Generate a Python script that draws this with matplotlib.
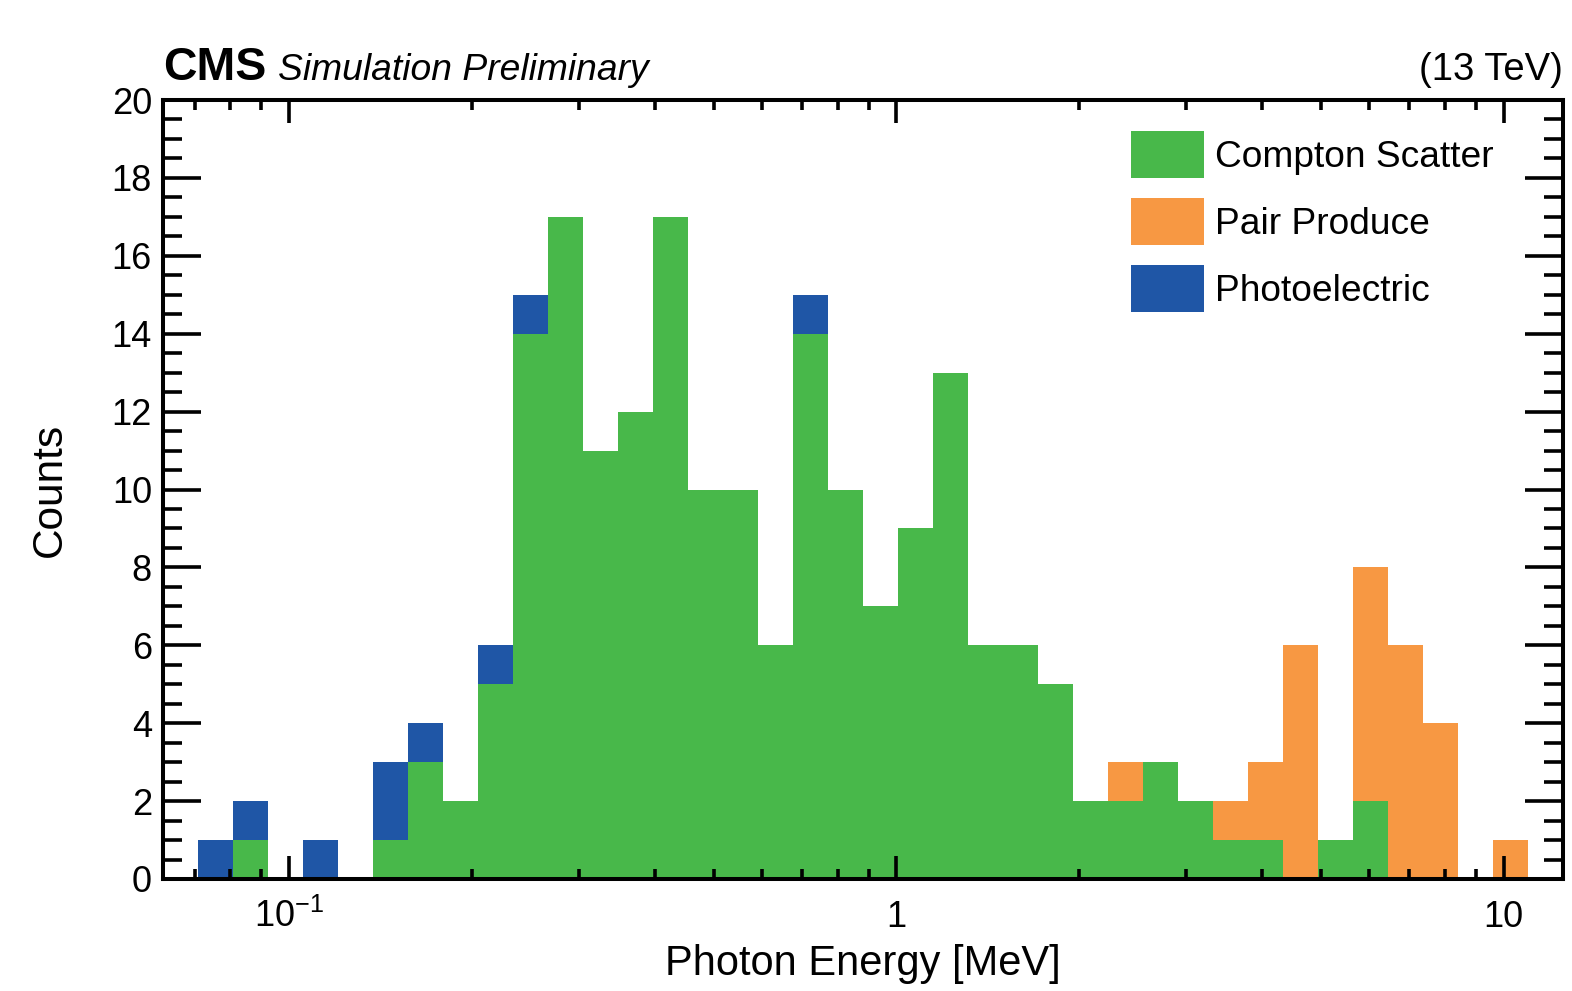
import numpy as np
import matplotlib
matplotlib.use("Agg")
import matplotlib.pyplot as plt
from matplotlib.ticker import MultipleLocator, NullFormatter, LogLocator
from matplotlib.transforms import blended_transform_factory

plt.rcParams['font.family'] = ['Liberation Sans', 'DejaVu Sans']
plt.rcParams['mathtext.fontset'] = 'custom'
plt.rcParams['mathtext.rm'] = 'Liberation Sans'
plt.rcParams['mathtext.it'] = 'Liberation Sans:italic'
plt.rcParams['mathtext.bf'] = 'Liberation Sans:bold'

# ---- data ----
log_lo, log_hi, n_bins = -1.208, 1.098, 40
compton = [0, 0, 1, 0, 0, 0, 1, 3, 2, 5, 14, 17, 11, 12, 17, 10, 10, 6, 14, 10,
           7, 9, 13, 6, 6, 5, 2, 2, 3, 2, 1, 1, 0, 1, 2, 0, 0, 0, 0, 0]
pair = [0, 0, 0, 0, 0, 0, 0, 0, 0, 0, 0, 0, 0, 0, 0, 0, 0, 0, 0, 0,
        0, 0, 0, 0, 0, 0, 0, 1, 0, 0, 1, 2, 6, 0, 6, 6, 4, 0, 1, 0]
photo = [0, 1, 1, 0, 1, 0, 2, 1, 0, 1, 1, 0, 0, 0, 0, 0, 0, 0, 1, 0,
         0, 0, 0, 0, 0, 0, 0, 0, 0, 0, 0, 0, 0, 0, 0, 0, 0, 0, 0, 0]
labels = ["Compton Scatter", "Pair Produce", "Photoelectric"]
colors = ["#48b84a", "#f79843", "#1f56a6"]
xtick_vals = [0.1, 1, 10]
xtick_labels = [r"$10^{-1}$", "1", "10"]

edges = np.logspace(log_lo, log_hi, n_bins + 1)
widths = np.diff(edges)

fig = plt.figure(figsize=(15.72, 9.91), dpi=100)
ax = fig.add_axes([163/1572, (991-879)/991, 1400/1572, 779/991])

bottom = np.zeros(n_bins)
for vals, lab, col in zip([compton, pair, photo], labels, colors):
    v = np.array(vals, dtype=float)
    ax.bar(edges[:-1], v, width=widths, bottom=bottom, align='edge',
           color=col, linewidth=0, label=lab)
    bottom += v

ax.set_xscale('log')
ax.set_xlim(edges[0], edges[-1])
ax.set_ylim(0, 20)

ax.yaxis.set_major_locator(MultipleLocator(2))
ax.yaxis.set_minor_locator(MultipleLocator(0.5))
ax.xaxis.set_major_locator(LogLocator(base=10, numticks=10))
ax.xaxis.set_minor_locator(LogLocator(base=10, subs=np.arange(2, 10), numticks=20))
ax.xaxis.set_major_formatter(NullFormatter())
ax.xaxis.set_minor_formatter(NullFormatter())

for s in ax.spines.values():
    s.set_linewidth(2.9)
    s.set_zorder(5)

ax.tick_params(axis='both', which='both', direction='in', top=True, right=True,
               width=2.6, colors='black')
ax.tick_params(axis='x', which='major', length=16.6)
ax.tick_params(axis='x', which='minor', length=7.2)
ax.tick_params(axis='y', which='major', length=27.4, labelsize=26, pad=8)
ax.tick_params(axis='y', which='minor', length=13.7)

trans = blended_transform_factory(ax.transData, ax.transAxes)
for xv, xl in zip(xtick_vals, xtick_labels):
    ax.text(xv, (879-927)/779, xl, transform=trans, ha='center', va='baseline',
            fontsize=26)

ax.set_xlabel("Photon Energy [MeV]", fontsize=30)
ax.xaxis.label.set_va('baseline')
ax.xaxis.set_label_coords(0.5, (879-975)/779)
ax.set_ylabel("Counts", fontsize=30.5)
ax.yaxis.label.set_va('baseline')
ax.yaxis.set_label_coords((61-163)/1400, 0.5)

ax.text(0.0, (879-80)/779, "CMS", transform=ax.transAxes, fontsize=33.5,
        fontweight='bold', ha='left', va='baseline')
ax.text(115/1400, (879-80)/779, "Simulation Preliminary", transform=ax.transAxes,
        fontsize=26.8, fontstyle='italic', ha='left', va='baseline')
ax.text(1.0, (879-80)/779, "(13 TeV)", transform=ax.transAxes, fontsize=27.5,
        ha='right', va='baseline')

fs = 26.7
fpx = fs * 100 / 72
hh = (47 / fpx - 0.245) / 0.65
ax.legend(loc='upper left', bbox_to_anchor=((1131-163)/1400, (879-131)/779),
          frameon=False, fontsize=fs, borderpad=0, borderaxespad=0,
          handlelength=73/fpx, handleheight=hh,
          labelspacing=20/fpx, handletextpad=0.3)

fig.savefig("out.png", dpi=100)
